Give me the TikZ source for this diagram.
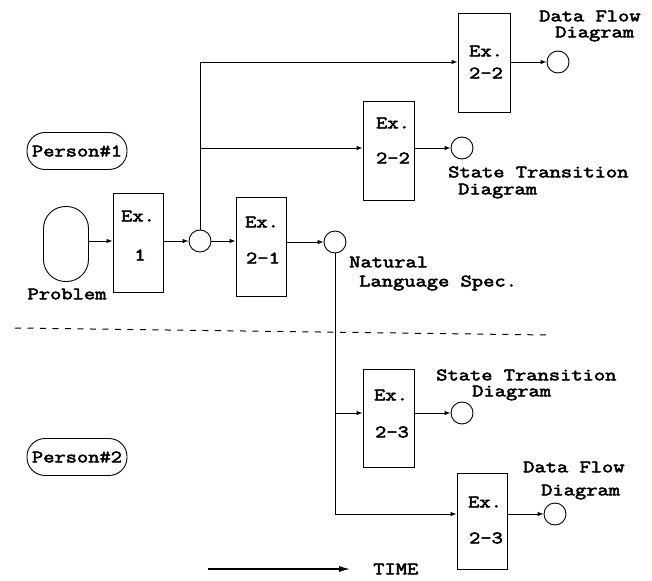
\documentclass[tikz,border=0pt]{standalone}
\usepackage{fontspec}
\newfontfamily\dfont[FakeStretch=1.25,FakeBold=3]{Latin Modern Mono}
\usetikzlibrary{arrows.meta}
\begin{document}
\begin{tikzpicture}[x=1pt,y=-1pt,
  lw/.style={line width=0.9pt},
  exbox/.style={draw, lw, minimum width=50pt, minimum height=99pt, inner sep=0pt},
  res/.style={draw, circle, lw, minimum size=22pt, inner sep=0pt},
  pill/.style={draw, lw, minimum width=100pt, minimum height=37pt, rounded corners=18pt, inner sep=0pt},
  lbl/.style={font=\fontsize{17.5}{17.5}\selectfont\dfont, inner sep=0pt},
  arr/.style={lw, -{Latex[length=6pt,width=4.5pt]}},
  sep/.style={line width=1pt, dash pattern=on 6pt off 6.5pt}
]
\useasboundingbox (0,0) rectangle (652,580);

% persons and problem
\node[pill, lbl] (p1) at (77,151) {Person\#1};
\node[pill, lbl] (p2) at (77,457) {Person\#2};
\node[draw, lw, minimum width=45pt, minimum height=75pt, rounded corners=22pt, inner sep=0pt] (prob) at (66,244) {};
\node[lbl] (probt) at (67,294) {Problem};

% boxes
\node[exbox] (e1) at (138,243) {};
\node[exbox] (e21) at (261,247) {};
\node[exbox, minimum width=52pt] (e22a) at (484,62.5) {};
\node[exbox, minimum width=51pt] (e22b) at (388.5,150.5) {};
\node[exbox, minimum width=51pt, minimum height=98pt] (e23a) at (388.5,418) {};
\node[exbox, minimum height=96pt] (e23b) at (482,521) {};

% box labels
\node[lbl] (e1a) at (138,216) {Ex.};
\node[lbl] (e1b) at (140,255) {1};
\node[lbl] (e21a) at (262,222) {Ex.};
\node[lbl] (e21b) at (263,258) {2-1};
\node[lbl] (e22aa) at (486,51) {Ex.};
\node[lbl] (e22ab) at (486,73) {2-2};
\node[lbl] (e22ba) at (393,123) {Ex.};
\node[lbl] (e22bb) at (393,158) {2-2};
\node[lbl] (e23aa) at (391,395) {Ex.};
\node[lbl] (e23ab) at (392,432) {2-3};
\node[lbl] (e23ba) at (485,502) {Ex.};
\node[lbl] (e23bb) at (486,538) {2-3};

% result circles
\node[res] (c1) at (200,241) {};
\node[res] (c2) at (335,242) {};
\node[res] (c3) at (558,62) {};
\node[res] (c4) at (462,148) {};
\node[res] (c5) at (462,413) {};
\node[res] (c6) at (555,514) {};

% result labels
\node[lbl, anchor=west] (l3a) at (539,16) {Data Flow};
\node[lbl, anchor=west] (l3b) at (555,34) {Diagram};
\node[lbl, anchor=west] (l4a) at (448,172) {State Transition};
\node[lbl, anchor=west] (l4b) at (458,191) {Diagram};
\node[lbl, anchor=west] (l2a) at (349,262) {Natural};
\node[lbl, anchor=west] (l2b) at (359,283) {Language Spec.};
\node[lbl, anchor=west] (l5a) at (436,375) {State Transition};
\node[lbl, anchor=west] (l5b) at (472,393) {Diagram};
\node[lbl, anchor=west] (l6a) at (523,467) {Data Flow};
\node[lbl, anchor=west] (l6b) at (541,492) {Diagram};

% connectors
\draw[arr] (prob.east |- c1) -- (e1.west |- c1);
\draw[arr] (e1.east |- c1) -- (c1.west);
\draw[arr] (c1.east) -- (e21.west |- c1);
\draw[arr] (e21.east |- c2) -- (c2.west);
\draw[arr] (c1.north) |- (e22a.west |- c3);
\draw[arr] (c1.north |- c4) -- (e22b.west |- c4);
\draw[arr] (e22a.east |- c3) -- (c3.west);
\draw[arr] (e22b.east |- c4) -- (c4.west);
\draw[arr] (c2.south) |- (e23b.west |- c6);
\draw[arr] (c2.south |- c5) -- (e23a.west |- c5);
\draw[arr] (e23a.east |- c5) -- (c5.west);
\draw[arr] (e23b.east |- c6) -- (c6.west);

% separator
\coordinate (d0) at (15,328);
\coordinate (d1) at (549,335);
\draw[sep] (d0) -- (d1);

% time axis
\node[lbl, anchor=west] (time) at (373,569) {TIME};
\coordinate (t0) at (208,569);
\draw[line width=1.2pt, -{Latex[length=11pt,width=6pt]}] (t0) -- ([xshift=-23pt]time.west);
\end{tikzpicture}
\end{document}
